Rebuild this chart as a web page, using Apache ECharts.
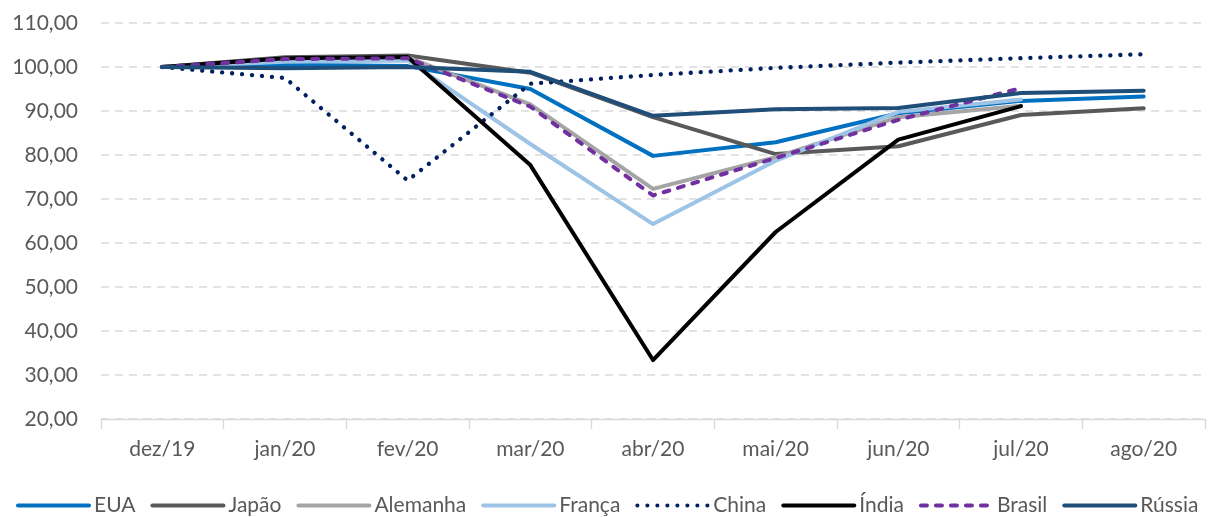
<!DOCTYPE html>
<html>
<head>
<meta charset="utf-8">
<script src="https://cdn.jsdelivr.net/npm/echarts@6/dist/echarts.min.js"></script>
<style>
  html, body { margin: 0; padding: 0; background: #fff; }
  #chart { width: 1209px; height: 517px; }
</style>
</head>
<body>
<div id="chart"></div>
<script>
// Monthly index (dez/19 = 100) per country
const months = ['dez/19', 'jan/20', 'fev/20', 'mar/20', 'abr/20', 'mai/20', 'jun/20', 'jul/20', 'ago/20'];

const eua      = [100, 100.5, 100.2, 95.0, 79.8, 82.9, 89.5, 92.3, 93.3];
const japao    = [100, 102.2, 102.6, 98.7, 88.6, 80.2, 82.0, 89.1, 90.6];
const alemanha = [100, 102.0, 102.2, 91.5, 72.3, 79.5, 88.6, 91.2, null];
const franca   = [100, 101.2, 101.5, 82.5, 64.3, 78.7, 89.8, 92.6, null];
const china    = [100, 97.5, 74.2, 96.2, 98.2, 99.8, 101.0, 102.0, 102.9];
const india    = [100, 102.0, 102.3, 77.7, 33.4, 62.5, 83.5, 91.1, null];
const brasil   = [100, 101.8, 102.0, 91.0, 70.8, 79.3, 88.0, 95.2, null];
const russia   = [100, 99.7, 100.0, 98.9, 88.9, 90.4, 90.7, 94.1, 94.6];

const FONT = 'Lato, "Open Sans", sans-serif';
const chart = echarts.init(document.getElementById('chart'));

function line(name, data, color, type, width) {
  return {
    name: name,
    type: 'line',
    data: data,
    symbol: 'none',
    smooth: false,
    connectNulls: false,
    lineStyle: { color: color, width: width || 4, type: type || 'solid', cap: 'round', join: 'round' },
    itemStyle: { color: color },
    emphasis: { disabled: true }
  };
}

chart.setOption({
  animation: false,
  textStyle: { fontFamily: FONT },
  grid: { left: 101, right: 4, top: 23, bottom: 98, containLabel: false },
  legend: {
    bottom: 1,
    left: 16,
    width: 1400,
    padding: 0,
    itemWidth: 71,
    itemHeight: 4,
    itemGap: 15,
    itemStyle: { opacity: 0 },
    lineStyle: { width: 4, cap: 'round' },
    textStyle: { color: '#595959', fontSize: 21, fontFamily: FONT },
    data: ['EUA', 'Japão', 'Alemanha', 'França', 'China', 'Índia', 'Brasil', 'Rússia']
  },
  xAxis: {
    type: 'category',
    data: months,
    boundaryGap: true,
    axisLine: { lineStyle: { color: '#D9D9D9', width: 1.3 } },
    axisTick: { show: true, length: 10, lineStyle: { color: '#D9D9D9', width: 1.3 } },
    axisLabel: { color: '#595959', fontSize: 21, margin: 20 },
    splitLine: { show: false }
  },
  yAxis: {
    type: 'value',
    min: 20,
    max: 110,
    interval: 10,
    axisLine: { show: false },
    axisTick: { show: false },
    axisLabel: {
      color: '#595959',
      fontSize: 21,
      margin: 23,
      formatter: v => v.toFixed(2).replace('.', ',')
    },
    splitLine: { lineStyle: { color: '#D9D9D9', width: 1.5, type: [8, 6] } }
  },
  series: [
    line('EUA', eua, '#0070C0'),
    line('Japão', japao, '#595959'),
    line('Alemanha', alemanha, '#A5A5A5'),
    line('França', franca, '#9DC3E6'),
    line('China', china, '#002060', [0.1, 9.9], 4.3),
    line('Índia', india, '#000000'),
    line('Brasil', brasil, '#7030A0', [6, 9], 4),
    line('Rússia', russia, '#1F4E79')
  ]
});
</script>
</body>
</html>
